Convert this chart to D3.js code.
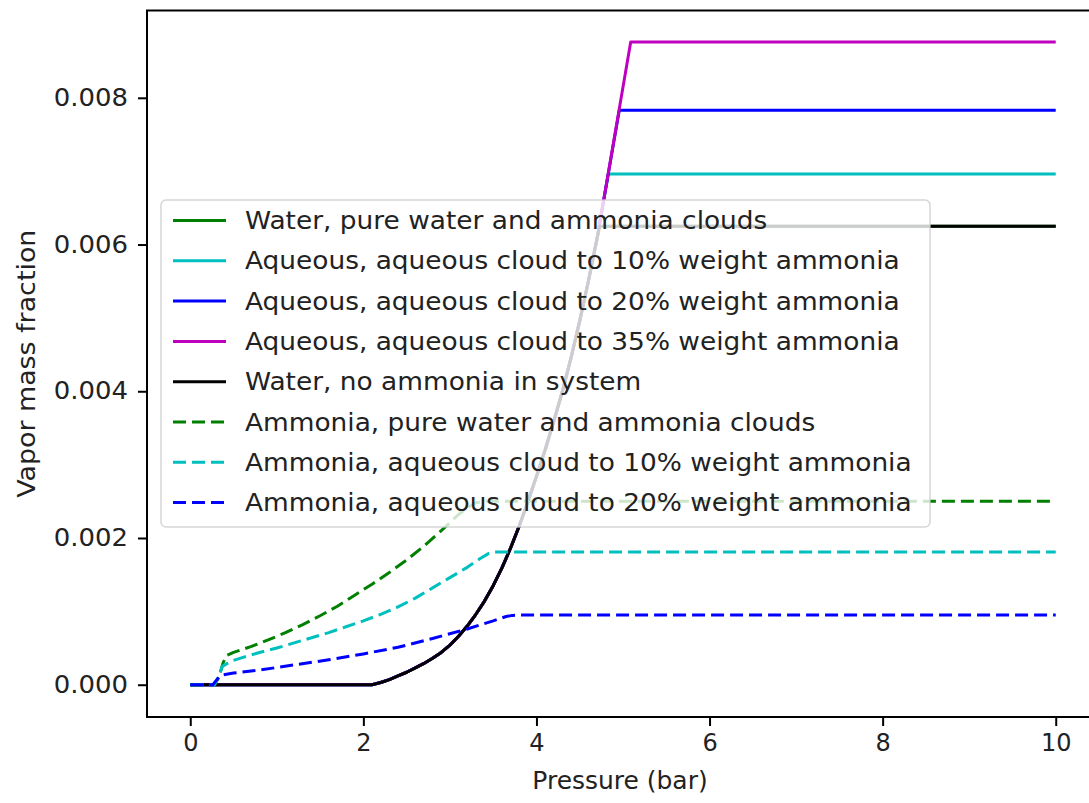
<!DOCTYPE html>
<html>
<head>
<meta charset="utf-8">
<script src="https://cdn.jsdelivr.net/npm/d3@7"></script>
<style>
  html, body { margin: 0; padding: 0; background: #fff; }
  svg { display: block; font-family: "DejaVu Sans", sans-serif; }
</style>
</head>
<body>
<svg id="chart" width="1089" height="803"></svg>
<script>
// Vapor mass fraction versus pressure for water and ammonia cloud cases.
// Each series is a list of [pressure (bar), vapor mass fraction] points.
const waterPure = [[0,0],[2.1,0],[2.2,0.00003],[2.3,0.00007],[2.4,0.00012],[2.5,0.00017],[2.6,0.00023],[2.7,0.00029],[2.8,0.00036],[2.9,0.00044],[3.0,0.00054],[3.1,0.00066],[3.2,0.0008],[3.3,0.00096],[3.4,0.00114],[3.5,0.00135],[3.6,0.00159],[3.7,0.00186],[3.8,0.00216],[3.9,0.00249],[4.0,0.00284],[4.1,0.0032],[4.2,0.00359],[4.3,0.004],[4.4,0.00446],[4.5,0.00496],[4.6,0.0055],[4.7,0.00608],[4.73,0.00625],[10,0.00625]];
const aqueous10 = [[0,0],[2.1,0],[2.2,0.00003],[2.3,0.00007],[2.4,0.00012],[2.5,0.00017],[2.6,0.00023],[2.7,0.00029],[2.8,0.00036],[2.9,0.00044],[3.0,0.00054],[3.1,0.00066],[3.2,0.0008],[3.3,0.00096],[3.4,0.00114],[3.5,0.00135],[3.6,0.00159],[3.7,0.00186],[3.8,0.00216],[3.9,0.00249],[4.0,0.00284],[4.1,0.0032],[4.2,0.00359],[4.3,0.004],[4.4,0.00446],[4.5,0.00496],[4.6,0.0055],[4.7,0.00608],[4.83,0.00696],[10,0.00696]];
const aqueous20 = [[0,0],[2.1,0],[2.2,0.00003],[2.3,0.00007],[2.4,0.00012],[2.5,0.00017],[2.6,0.00023],[2.7,0.00029],[2.8,0.00036],[2.9,0.00044],[3.0,0.00054],[3.1,0.00066],[3.2,0.0008],[3.3,0.00096],[3.4,0.00114],[3.5,0.00135],[3.6,0.00159],[3.7,0.00186],[3.8,0.00216],[3.9,0.00249],[4.0,0.00284],[4.1,0.0032],[4.2,0.00359],[4.3,0.004],[4.4,0.00446],[4.5,0.00496],[4.6,0.0055],[4.7,0.00608],[4.957,0.00783],[10,0.00783]];
const aqueous35 = [[0,0],[2.1,0],[2.2,0.00003],[2.3,0.00007],[2.4,0.00012],[2.5,0.00017],[2.6,0.00023],[2.7,0.00029],[2.8,0.00036],[2.9,0.00044],[3.0,0.00054],[3.1,0.00066],[3.2,0.0008],[3.3,0.00096],[3.4,0.00114],[3.5,0.00135],[3.6,0.00159],[3.7,0.00186],[3.8,0.00216],[3.9,0.00249],[4.0,0.00284],[4.1,0.0032],[4.2,0.00359],[4.3,0.004],[4.4,0.00446],[4.5,0.00496],[4.6,0.0055],[4.7,0.00608],[5.089,0.00876],[10,0.00876]];
const waterOnly = [[0,0],[2.1,0],[2.2,0.00003],[2.3,0.00007],[2.4,0.00012],[2.5,0.00017],[2.6,0.00023],[2.7,0.00029],[2.8,0.00036],[2.9,0.00044],[3.0,0.00054],[3.1,0.00066],[3.2,0.0008],[3.3,0.00096],[3.4,0.00114],[3.5,0.00135],[3.6,0.00159],[3.7,0.00186],[3.8,0.00216],[3.9,0.00249],[4.0,0.00284],[4.1,0.0032],[4.2,0.00359],[4.3,0.004],[4.4,0.00446],[4.5,0.00496],[4.6,0.0055],[4.7,0.00608],[4.73,0.00625],[10,0.00625]];
const ammoniaPure = [[0,0],[0.28,0],[0.33,0.0001],[0.38,0.0003],[0.42,0.0004],[0.5,0.00044],[0.7,0.00052],[0.9,0.00061],[1.1,0.00071],[1.3,0.00082],[1.5,0.00094],[1.7,0.00107],[1.9,0.00122],[2.1,0.00137],[2.3,0.00153],[2.5,0.0017],[2.7,0.00189],[2.9,0.0021],[3.0,0.00221],[3.1,0.00232],[3.2,0.00241],[3.3,0.00248],[3.4,0.0025],[10,0.0025]];
const ammonia10 = [[0,0],[0.28,0],[0.33,0.00012],[0.37,0.00025],[0.47,0.00032],[0.6,0.00037],[0.8,0.00044],[1.0,0.0005],[1.2,0.00057],[1.4,0.00064],[1.6,0.00071],[1.8,0.00079],[2.0,0.00087],[2.2,0.00096],[2.4,0.00106],[2.6,0.00118],[2.8,0.00132],[3.0,0.00146],[3.2,0.0016],[3.35,0.00172],[3.45,0.00179],[3.52,0.00181],[10,0.00181]];
const ammonia20 = [[0,0],[0.26,0],[0.35,0.00013],[0.5,0.00016],[0.8,0.0002],[1.2,0.00027],[1.6,0.00034],[2.0,0.00042],[2.4,0.00051],[2.8,0.00063],[3.2,0.00076],[3.5,0.00087],[3.65,0.00093],[3.72,0.000945],[3.8,0.00095],[10,0.00095]];

const seriesLabels = [
  "Water, pure water and ammonia clouds",
  "Aqueous, aqueous cloud to 10% weight ammonia",
  "Aqueous, aqueous cloud to 20% weight ammonia",
  "Aqueous, aqueous cloud to 35% weight ammonia",
  "Water, no ammonia in system",
  "Ammonia, pure water and ammonia clouds",
  "Ammonia, aqueous cloud to 10% weight ammonia",
  "Ammonia, aqueous cloud to 20% weight ammonia"
];
const seriesColors = ["#008000", "#00bfbf", "#0000ff", "#bf00bf", "#000000", "#008000", "#00bfbf", "#0000ff"];
const seriesDashed = [false, false, false, false, false, true, true, true];

const pressureTicks = [0, 2, 4, 6, 8, 10];
const fractionTicks = [0, 0.002, 0.004, 0.006, 0.008];

const allSeries = [waterPure, aqueous10, aqueous20, aqueous35, waterOnly, ammoniaPure, ammonia10, ammonia20];

const svg = d3.select("#chart");
const plot = { left: 147, right: 1099, top: 10.5, bottom: 717 };
const fontSize = 24;
const textColor = "#222";

const x = d3.scaleLinear().domain([-0.5, 10.5]).range([plot.left, plot.right]);
const y = d3.scaleLinear().domain([-0.00044, 0.00919]).range([plot.bottom, plot.top]);

svg.append("defs").append("clipPath").attr("id", "plot-clip")
  .append("rect")
  .attr("x", plot.left).attr("y", plot.top)
  .attr("width", plot.right - plot.left).attr("height", plot.bottom - plot.top);

const line = d3.line().x(d => x(d[0])).y(d => y(d[1]));

const lines = svg.append("g").attr("clip-path", "url(#plot-clip)");
allSeries.forEach((s, i) => {
  lines.append("path")
    .datum(s)
    .attr("d", line)
    .attr("fill", "none")
    .attr("stroke", seriesColors[i])
    .attr("stroke-width", 3)
    .attr("stroke-linejoin", "round")
    .attr("stroke-dasharray", seriesDashed[i] ? "13,6" : null);
});

// Frame
svg.append("rect")
  .attr("x", plot.left).attr("y", plot.top)
  .attr("width", plot.right - plot.left).attr("height", plot.bottom - plot.top)
  .attr("fill", "none").attr("stroke", "#000").attr("stroke-width", 2);

// Axes
const xAxis = d3.axisBottom(x).tickValues(pressureTicks).tickFormat(d3.format("d"))
  .tickSize(9).tickPadding(8);
const gx = svg.append("g").attr("transform", `translate(0,${plot.bottom})`).call(xAxis);
const yAxis = d3.axisLeft(y).tickValues(fractionTicks).tickFormat(d3.format(".3f"))
  .tickSize(9).tickPadding(10);
const gy = svg.append("g").attr("transform", `translate(${plot.left},0)`).call(yAxis);
[gx, gy].forEach(g => {
  g.select(".domain").remove();
  g.selectAll(".tick line").attr("stroke", "#000").attr("stroke-width", 2);
  g.selectAll(".tick text").attr("fill", textColor)
    .style("font-family", "DejaVu Sans").style("font-size", fontSize + "px");
});
gy.selectAll(".tick text").attr("transform", function () {
  // widen the tick labels slightly, anchored at their right edge
  const xr = -19;
  return `translate(${xr},0) scale(1.08,1) translate(${-xr},0)`;
});

// Axis titles
svg.append("text")
  .attr("transform", `translate(${(x(0) + x(10)) / 2 - 3},789) scale(1.04,1)`)
  .attr("text-anchor", "middle")
  .attr("fill", textColor).style("font-size", fontSize + "px")
  .text("Pressure (bar)");
svg.append("text")
  .attr("transform", `translate(35,${(plot.top + plot.bottom) / 2}) rotate(-90) scale(1.12,1)`)
  .attr("text-anchor", "middle")
  .attr("fill", textColor).style("font-size", fontSize + "px")
  .text("Vapor mass fraction");

// Legend
const legend = { left: 161, top: 200, width: 769, height: 327, rowStart: 220.5, rowStep: 40.3, textX: 245 };
const lg = svg.append("g");
lg.append("rect")
  .attr("x", legend.left).attr("y", legend.top)
  .attr("width", legend.width).attr("height", legend.height)
  .attr("rx", 5).attr("ry", 5)
  .attr("fill", "#fff").attr("fill-opacity", 0.8)
  .attr("stroke", "#ccc").attr("stroke-opacity", 0.8).attr("stroke-width", 1.5);
seriesLabels.forEach((label, i) => {
  const ry = legend.rowStart + i * legend.rowStep;
  lg.append("line")
    .attr("x1", 173).attr("x2", 226).attr("y1", ry).attr("y2", ry)
    .attr("stroke", seriesColors[i]).attr("stroke-width", 3)
    .attr("stroke-dasharray", seriesDashed[i] ? "13,6" : null);
  lg.append("text")
    .attr("transform", `translate(${legend.textX},${ry + fontSize * 0.36}) scale(1.1,1)`)
    .attr("fill", textColor).style("font-size", fontSize + "px")
    .text(label);
});
</script>
</body>
</html>
